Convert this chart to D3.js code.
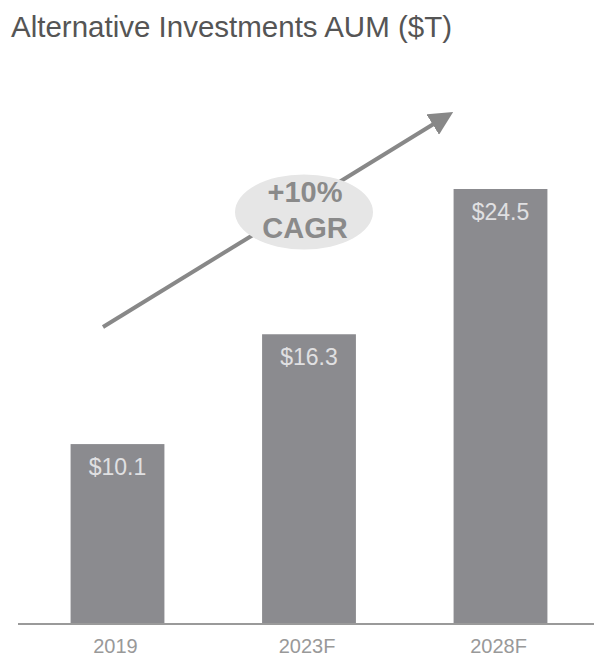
<!DOCTYPE html>
<html>
<head>
<meta charset="utf-8">
<script src="https://cdn.jsdelivr.net/npm/d3@7"></script>
<style>
  html, body { margin: 0; padding: 0; background: #fff; }
  svg { display: block; }
</style>
</head>
<body>
<svg id="chart" width="594" height="658"></svg>
<script>
const categories = ["2019", "2023F", "2028F"];
const values = [10.1, 16.3, 24.5];
const valueLabels = ["$10.1", "$16.3", "$24.5"];
const title = "Alternative Investments AUM ($T)";
const cagrLines = ["+10%", "CAGR"];

const svg = d3.select("#chart");
const W = 594, H = 658;
const baseY = 623;

const x = d3.scaleBand()
  .domain(categories)
  .range([21.75, 596.25])
  .paddingInner(0.51)
  .paddingOuter(0.255);

const y = d3.scaleLinear()
  .domain([0, 24.5])
  .range([baseY, 189]);

const font = "Liberation Sans, Arial, Helvetica, sans-serif";

// title
svg.append("text")
  .attr("x", 11)
  .attr("y", 37)
  .attr("font-family", font)
  .attr("font-size", 29.5)
  .attr("fill", "#555")
  .text(title);

// bars
svg.selectAll("rect.bar")
  .data(values)
  .join("rect")
  .attr("class", "bar")
  .attr("x", (d, i) => x(categories[i]))
  .attr("width", x.bandwidth())
  .attr("y", d => y(d))
  .attr("height", d => y(0) - y(d))
  .attr("fill", "#8b8b8f");

// value labels
svg.selectAll("text.val")
  .data(values)
  .join("text")
  .attr("class", "val")
  .attr("x", (d, i) => x(categories[i]) + x.bandwidth() / 2)
  .attr("y", d => y(d) + 31)
  .attr("text-anchor", "middle")
  .attr("font-family", font)
  .attr("font-size", 23)
  .attr("fill", "#e0e0e2")
  .text((d, i) => valueLabels[i]);

// baseline axis
svg.append("line")
  .attr("x1", 18).attr("x2", W)
  .attr("y1", baseY + 1).attr("y2", baseY + 1)
  .attr("stroke", "#9a9a9a")
  .attr("stroke-width", 2);

const xAxis = d3.axisBottom(x).tickSize(0).tickPadding(0);
const gx = svg.append("g")
  .attr("transform", `translate(0, ${baseY})`)
  .call(xAxis);
gx.select(".domain").remove();
gx.selectAll("text")
  .attr("dy", null)
  .attr("y", 30)
  .attr("dx", -2)
  .attr("font-family", font)
  .attr("font-size", 20)
  .attr("fill", "#999");

// arrow
const defs = svg.append("defs");
defs.append("marker")
  .attr("id", "arrowhead")
  .attr("viewBox", "0 0 10 10")
  .attr("refX", 6)
  .attr("refY", 5)
  .attr("markerWidth", 6)
  .attr("markerHeight", 6)
  .attr("markerUnits", "strokeWidth")
  .attr("orient", "auto")
  .append("path")
  .attr("d", "M0,0 L10,5 L0,10 Z")
  .attr("fill", "#888");

svg.append("line")
  .attr("x1", 103).attr("y1", 327)
  .attr("x2", 445).attr("y2", 117)
  .attr("stroke", "#888")
  .attr("stroke-width", 4)
  .attr("marker-end", "url(#arrowhead)");

// ellipse with CAGR
svg.append("ellipse")
  .attr("cx", 304).attr("cy", 212)
  .attr("rx", 69).attr("ry", 37.5)
  .attr("fill", "#e6e6e6");

svg.selectAll("text.cagr")
  .data(cagrLines)
  .join("text")
  .attr("class", "cagr")
  .attr("x", 305)
  .attr("y", (d, i) => 202 + i * 36)
  .attr("text-anchor", "middle")
  .attr("font-family", font)
  .attr("font-weight", "bold")
  .attr("font-size", 29)
  .attr("fill", "#8a8a8a")
  .text(d => d);
</script>
</body>
</html>
